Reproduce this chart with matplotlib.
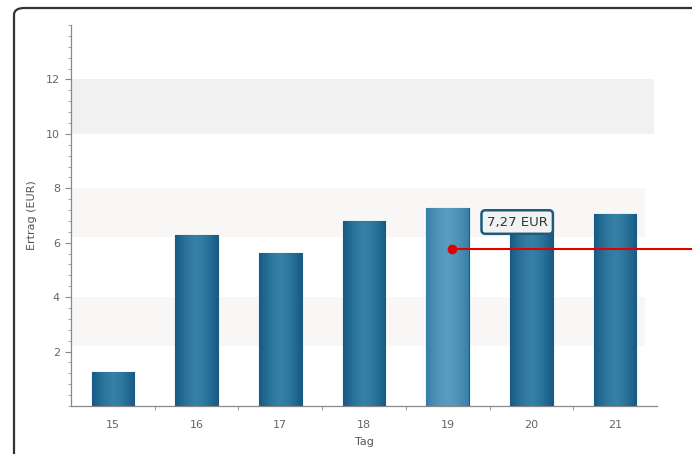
import matplotlib
matplotlib.use("Agg")
import matplotlib.pyplot as plt
import numpy as np
from matplotlib.patches import FancyBboxPatch
from matplotlib.ticker import AutoMinorLocator, FixedLocator

days = [15, 16, 17, 18, 19, 20, 21]
values = [1.25, 6.27, 5.62, 6.80, 7.27, 6.55, 7.07]
y_ticks = [2, 4, 6, 8, 10, 12]
hover_index = 4
tooltip_text = "7,27 EUR"

fig = plt.figure(figsize=(6.92, 4.54), dpi=100)
fig.patch.set_facecolor("white")

# outer rounded frame (clipped on right/bottom like the screenshot)
frame = FancyBboxPatch((14 / 692, -0.2), 1.2, 1.2 - 8 / 454,
                       boxstyle="round,pad=0,rounding_size=0.015",
                       transform=fig.transFigure, facecolor="none",
                       edgecolor="#333333", linewidth=1.6, zorder=0)
fig.patches.append(frame)

ax = fig.add_axes([71 / 692, 1 - 406 / 454, (657 - 71) / 692, (406 - 25) / 454])
ax.set_facecolor("none")
ax.set_xlim(14.5, 21.5)
ax.set_ylim(0, 14)

# faint background bands
ax.axhspan(10.0, 12.0, xmin=0.0, xmax=0.995, color="#f1f1f1", zorder=0, lw=0)
ax.axhspan(6.2, 8.0, xmin=0.0, xmax=0.98, color="#f8f7f6", zorder=0, lw=0)
ax.axhspan(2.2, 4.0, xmin=0.0, xmax=0.98, color="#f9f7f6", zorder=0, lw=0)

bars = ax.bar(days, values, width=0.51, color="#1f6a93", edgecolor="#1a5a80",
              linewidth=0.8, zorder=2)

# horizontal gradient inside bars
grad = np.linspace(-1, 1, 64)
prof = 1 - np.abs(grad) ** 1.5
for i, b in enumerate(bars):
    x0, y0 = b.get_x(), b.get_y()
    w, h = b.get_width(), b.get_height()
    if i == hover_index:
        c_edge = np.array([0x36, 0x7f, 0xa8]) / 255
        c_mid = np.array([0x5a, 0x9c, 0xbf]) / 255
    else:
        c_edge = np.array([0x16, 0x5a, 0x85]) / 255
        c_mid = np.array([0x35, 0x80, 0xa6]) / 255
    img = c_edge[None, None, :] + (c_mid - c_edge)[None, None, :] * prof[None, :, None]
    im = ax.imshow(img, extent=(x0, x0 + w, y0, y0 + h), aspect="auto",
                   zorder=3, interpolation="bicubic")
    im.set_clip_path(b)

ax.spines["top"].set_visible(False)
ax.spines["right"].set_visible(False)
for s in ("left", "bottom"):
    ax.spines[s].set_color("#888888")
    ax.spines[s].set_linewidth(0.9)

ax.set_yticks(y_ticks)
ax.yaxis.set_minor_locator(AutoMinorLocator(5))
ax.set_xticks(days)
ax.xaxis.set_minor_locator(FixedLocator([d + 0.5 for d in days[:-1]]))
ax.tick_params(axis="x", which="major", length=0, pad=10, labelsize=8, colors="#666666")
ax.tick_params(axis="x", which="minor", length=3, color="#888888", direction="out")
ax.tick_params(axis="y", which="major", length=4, color="#888888", labelsize=8,
               labelcolor="#666666", pad=4)
ax.tick_params(axis="y", which="minor", length=2.5, color="#999999")

ax.set_xlabel("Tag", fontsize=8, color="#555555", labelpad=5)
ax.set_ylabel("Ertrag (EUR)", fontsize=8, color="#555555", labelpad=6)

# hover marker and red line
hx = days[hover_index] + 0.05
hy = 5.77
ax.plot([hx, 30], [hy, hy], color="#e00000", lw=1.5, zorder=5, clip_on=False,
        solid_capstyle="butt")
ax.plot([hx], [hy], "o", color="#e00000", ms=6, zorder=6)

# tooltip
ax.annotate(tooltip_text, xy=(19.83, 6.76), xycoords="data",
            ha="center", va="center", fontsize=9.5, color="#333333",
            zorder=7,
            bbox=dict(boxstyle="round,pad=0.4,rounding_size=0.3",
                      facecolor="#f1f3f3", edgecolor="#1d5a7c", linewidth=1.8))

fig.savefig("out.png", dpi=100, facecolor="white")
